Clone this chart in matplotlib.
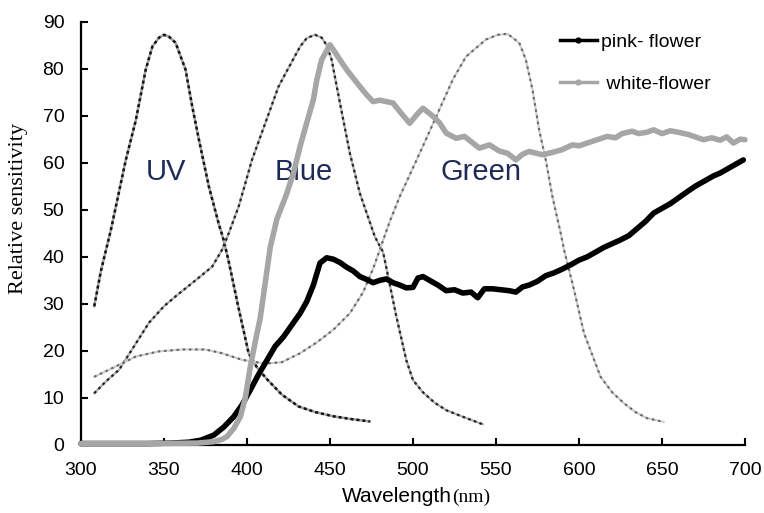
import numpy as np
import matplotlib
matplotlib.use('Agg')
import matplotlib.pyplot as plt
from matplotlib.lines import Line2D

plt.rcParams['font.family'] = ['Liberation Sans', 'DejaVu Sans']

# Photoreceptor sensitivity curves (dashed)
uv_wl = [308, 312, 318, 327, 333, 339, 343, 347, 350, 353, 357, 363, 367, 371, 377,
         383, 386, 389, 395, 401, 406, 412, 421, 431, 441, 452, 463, 474]
uv_val = [29.5, 37, 45.7, 60.6, 69, 79.8, 84.7, 86.6, 87.2, 86.8, 85.5, 79.8, 72, 65,
          55, 47, 43.5, 39, 29, 19.5, 16.5, 14, 10.7, 8.2, 7, 6.1, 5.5, 5]

blue_wl = [308, 315, 323, 332, 341, 350, 357, 369, 379, 385, 389, 395, 403, 411, 419,
           424, 432, 436, 441, 445, 448, 451, 456, 462, 468, 477, 482, 490, 496, 500,
           506, 513, 520, 530, 542]
blue_val = [11, 13.5, 16, 21, 26, 29.5, 31.6, 35, 37.9, 41.5, 45, 50.7, 60.6, 68.4, 76.2,
            79.5, 84.7, 86.5, 87.2, 86.6, 85, 81.9, 72.7, 62, 53.5, 44.3, 41, 27.3, 18,
            13.8, 11.2, 9, 7.4, 6, 4.4]

green_wl = [308, 321, 333, 347, 361, 375, 385, 397, 411, 421, 432, 442, 452, 462, 470,
            476, 480, 486, 492, 504, 514, 524, 532, 544, 551, 557, 564, 568, 572, 576,
            580, 584, 589, 591, 597, 603, 613, 620, 627, 634, 641, 651]
green_val = [14.5, 16.7, 18.8, 19.9, 20.3, 20.3, 19.5, 18.1, 17.3, 17.6, 19.5, 21.8, 24.5,
             28, 32.5, 37.5, 41.5, 47.5, 52.8, 62, 69.8, 77.7, 82.6, 86.2, 87.2, 87.4,
             85.5, 81.9, 75.5, 67, 60.6, 52.8, 45, 41.5, 33, 23.8, 14.5, 11.2, 8.9,
             7, 5.7, 4.9]

# Flower reflectance curves
pink_wl = [300, 320, 340, 355, 365, 372, 380, 386, 392, 397, 402, 407, 412, 417, 422,
           427, 432, 436, 440, 444, 448, 452, 456, 460, 464, 468, 472, 476, 480, 484,
           488, 492, 496, 500, 503, 506, 510, 515, 520, 525, 530, 535, 539, 543, 548,
           553, 558, 562, 566, 570, 575, 580, 585, 590, 595, 600, 605, 610, 615, 620,
           625, 630, 635, 640, 645, 650, 655, 661, 665, 670, 675, 681, 685, 690, 695, 699]
pink_val = [0.3, 0.3, 0.3, 0.4, 0.6, 1.0, 2.1, 3.8, 6, 8.5, 11.7, 15, 18, 21, 23, 25.5,
            28, 30.5, 34, 38.7, 39.8, 39.5, 38.8, 37.8, 37, 35.8, 35.2, 34.5, 35, 35.3,
            34.5, 34, 33.4, 33.5, 35.5, 35.8, 35, 34, 32.8, 33, 32.3, 32.5, 31.3, 33.2,
            33.2, 33, 32.8, 32.5, 33.6, 34, 34.8, 36, 36.6, 37.4, 38.3, 39.3, 40, 41,
            42, 42.8, 43.6, 44.5, 46, 47.5, 49.3, 50.3, 51.3, 52.8, 53.8, 55, 56,
            57.2, 57.8, 58.8, 59.8, 60.6]

white_wl = [300, 340, 370, 380, 385, 388, 392, 396, 399, 402, 405, 408, 410, 412, 414,
            418, 424, 428, 432, 436, 440, 442, 445, 450, 453, 456, 460, 464, 468, 472,
            476, 480, 484, 488, 492, 498, 503, 506, 512, 516, 520, 526, 531, 535, 540,
            546, 552, 557, 562, 566, 570, 578, 585, 590, 596, 600, 605, 611, 617, 622,
            626, 632, 636, 641, 645, 650, 655, 661, 666, 670, 675, 680, 685, 689, 693,
            697, 700]
white_val = [0.3, 0.3, 0.4, 0.7, 1.2, 1.8, 3.5, 6, 10, 16.6, 22, 27, 32, 37, 42,
             48, 53.5, 57.8, 63.5, 68.5, 73.4, 77.5, 81.9, 85.1, 83.5, 81.9, 79.8, 78,
             76.2, 74.5, 73, 73.3, 73, 72.7, 70.9, 68.4, 70.5, 71.6, 69.9, 68.5, 66.3,
             65.2, 65.6, 64.5, 63.1, 63.8, 62.5, 62, 60.6, 61.8, 62.4, 61.7, 62.3, 62.8,
             63.8, 63.6, 64.2, 64.9, 65.6, 65.3, 66.2, 66.7, 66.2, 66.5, 67, 66.2, 66.8,
             66.4, 66, 65.5, 64.9, 65.3, 64.8, 65.5, 64.2, 65, 64.9]

receptor_labels = ['UV', 'Blue', 'Green']
receptor_label_x = [351, 434, 541]
receptor_label_y = [58, 58, 58]

fig = plt.figure(figsize=(7.64, 5.13), dpi=100)
ax = fig.add_axes([0.106, 0.1326, 0.8691, 0.8252])

# dashed receptor curves: light base line with dark dots on top
ax.plot(uv_wl, uv_val, color='#a0a0a0', lw=1.8)
ax.plot(uv_wl, uv_val, color='#111111', lw=1.8, ls=(0, (1.2, 1.2)))
ax.plot(blue_wl, blue_val, color='#b0b0b0', lw=1.6)
ax.plot(blue_wl, blue_val, color='#222222', lw=1.6, ls=(0, (1.2, 1.5)))
ax.plot(green_wl, green_val, color='#cccccc', lw=1.5)
ax.plot(green_wl, green_val, color='#666666', lw=1.5, ls=(0, (1.2, 1.8)))

ax.plot(pink_wl, pink_val, color='black', lw=4, solid_capstyle='round', clip_on=False, zorder=4)
ax.plot(white_wl, white_val, color='#a6a6a6', lw=4, solid_capstyle='round', clip_on=False, zorder=5)

for lab, lx, ly in zip(receptor_labels, receptor_label_x, receptor_label_y):
    ax.text(lx, ly, lab, ha='center', va='center', fontsize=21, color='#1d2b58')

ax.set_xlim(300, 700)
ax.set_ylim(0, 90)
ax.set_xticks(np.arange(300, 701, 50))
ax.set_yticks(np.arange(0, 91, 10))
for s in ['top', 'right']:
    ax.spines[s].set_visible(False)
for s in ['left', 'bottom']:
    ax.spines[s].set_linewidth(1.6)
ax.tick_params(axis='both', direction='in', length=5, width=1.5, labelsize=14)
ax.tick_params(axis='x', pad=12)
ax.tick_params(axis='y', pad=12)

fig.text(452 / 764, 1 - 502 / 513, 'Wavelength', ha='right', va='baseline', fontsize=15)
fig.text(452 / 764, 1 - 502 / 513, '(nm)', ha='left', va='baseline', fontsize=14,
         family='Liberation Serif')
fig.text(19 / 764, 1 - 209 / 513, 'Relative sensitivity', rotation=90, ha='center',
         va='center', fontsize=16, family='Liberation Serif')

handles = [Line2D([], [], color='black', lw=2.5, marker='o', markersize=3.5),
           Line2D([], [], color='#a6a6a6', lw=2.5, marker='o', markersize=3.5)]
ax.legend(handles, ['pink- flower', ' white-flower'], loc='upper left',
          bbox_to_anchor=(560 / 764, 1 - 33 / 513), bbox_transform=fig.transFigure,
          frameon=False, fontsize=14, handlelength=1.9, handletextpad=0.2,
          labelspacing=1.25, borderpad=0, borderaxespad=0)

fig.savefig('out.png', dpi=100)
